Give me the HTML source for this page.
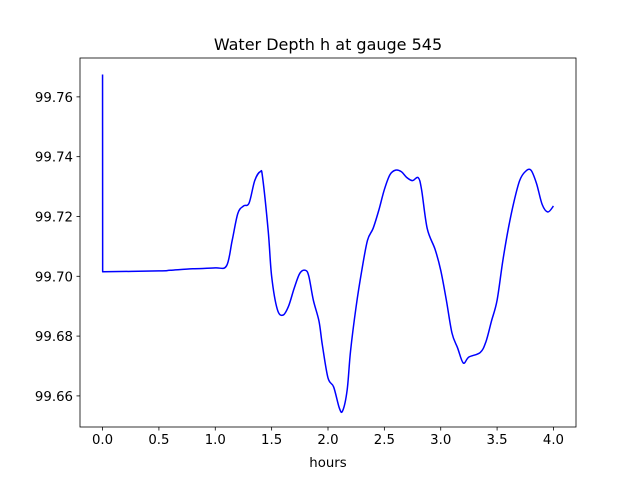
<!DOCTYPE html>
<html><head><meta charset="utf-8"><style>
body{margin:0;background:#fff}
svg text{font-family:"DejaVu Sans","Liberation Sans",sans-serif;fill:#000}
</style></head><body>
<svg id="chart" width="640" height="480" xmlns="http://www.w3.org/2000/svg">
<rect width="640" height="480" fill="#fff"/>
<g id="plot"></g>
</svg>
<script>
const hours=[0,0.001,0.5,0.6,0.8,1.0,1.1,1.15,1.2,1.25,1.3,1.35,1.4,1.42,1.47,1.5,1.55,1.6,1.65,1.7,1.75,1.8,1.83,1.87,1.92,1.95,2.0,2.05,2.1,2.13,2.17,2.2,2.25,2.3,2.35,2.4,2.45,2.5,2.55,2.6,2.65,2.7,2.75,2.8,2.83,2.88,2.95,3.0,3.05,3.1,3.15,3.2,3.25,3.35,3.4,3.45,3.5,3.55,3.6,3.65,3.7,3.75,3.8,3.85,3.9,3.95,4.0];
const depth=[99.7675,99.7015,99.7018,99.702,99.7025,99.7028,99.7035,99.712,99.721,99.7235,99.7245,99.732,99.735,99.733,99.715,99.700,99.689,99.687,99.690,99.696,99.701,99.702,99.700,99.692,99.685,99.677,99.666,99.663,99.656,99.655,99.662,99.675,99.690,99.702,99.712,99.716,99.722,99.729,99.734,99.7355,99.735,99.733,99.732,99.733,99.729,99.716,99.709,99.702,99.692,99.681,99.676,99.671,99.673,99.6745,99.678,99.685,99.692,99.705,99.716,99.725,99.732,99.735,99.7355,99.731,99.724,99.7215,99.7235];
const xTicks=[0,0.5,1.0,1.5,2.0,2.5,3.0,3.5,4.0];
const xTickLabels=["0.0","0.5","1.0","1.5","2.0","2.5","3.0","3.5","4.0"];
const yTicks=[99.66,99.68,99.70,99.72,99.74,99.76];
const yTickLabels=["99.66","99.68","99.70","99.72","99.74","99.76"];

const L=80,R=576,T=58,B=427;
const xMin=-0.2,xMax=4.2,yMin=99.6496,yMax=99.773;
const xs=v=>L+(v-xMin)/(xMax-xMin)*(R-L);
const ys=v=>B-(v-yMin)/(yMax-yMin)*(B-T);
const NS="http://www.w3.org/2000/svg";
const g=document.getElementById('plot');
function mk(tag,attrs,txt){const e=document.createElementNS(NS,tag);for(const k in attrs)e.setAttribute(k,attrs[k]);if(txt!==undefined)e.textContent=txt;g.appendChild(e);return e;}

const P=hours.map((h,i)=>[xs(h),ys(depth[i])]);
let d='M'+P[0][0].toFixed(2)+','+P[0][1].toFixed(2)+' L'+P[1][0].toFixed(2)+','+P[1][1].toFixed(2);
for(let i=1;i<P.length-1;i++){
  const p0=P[Math.max(1,i-1)],p1=P[i],p2=P[i+1],p3=P[Math.min(P.length-1,i+2)];
  const c1=[p1[0]+(p2[0]-p0[0])/6,p1[1]+(p2[1]-p0[1])/6];
  const c2=[p2[0]-(p3[0]-p1[0])/6,p2[1]-(p3[1]-p1[1])/6];
  d+=' C'+c1[0].toFixed(2)+','+c1[1].toFixed(2)+' '+c2[0].toFixed(2)+','+c2[1].toFixed(2)+' '+p2[0].toFixed(2)+','+p2[1].toFixed(2);
}
const line=mk('path',{d:d,fill:'none',stroke:'#0000ff','stroke-width':1.5,'stroke-linejoin':'round'});



const frame=mk('rect',{x:L,y:T,width:R-L,height:B-T,fill:'none',stroke:'#000','stroke-width':0.8});



xTicks.forEach((v,i)=>{
  const x=xs(v);
  const t=mk('line',{x1:x,x2:x,y1:B,y2:B+3.5,stroke:'#000','stroke-width':0.8});
  
  
  const lb=mk('text',{x:x,y:B+17,'text-anchor':'middle','font-size':'13.3'},xTickLabels[i]);
  
  
});
yTicks.forEach((v,i)=>{
  const y=ys(v);
  const t=mk('line',{x1:L-3.5,x2:L,y1:y,y2:y,stroke:'#000','stroke-width':0.8});
  
  
  const lb=mk('text',{x:L-7,y:y+5,'text-anchor':'end','font-size':'13.3'},yTickLabels[i]);
  
  
});
const xt=mk('text',{x:(L+R)/2,y:467,'text-anchor':'middle','font-size':'13.3'},'hours');


const tt=mk('text',{x:(L+R)/2,y:50,'text-anchor':'middle','font-size':'16'},'Water Depth h at gauge 545');


</script>
</body></html>
